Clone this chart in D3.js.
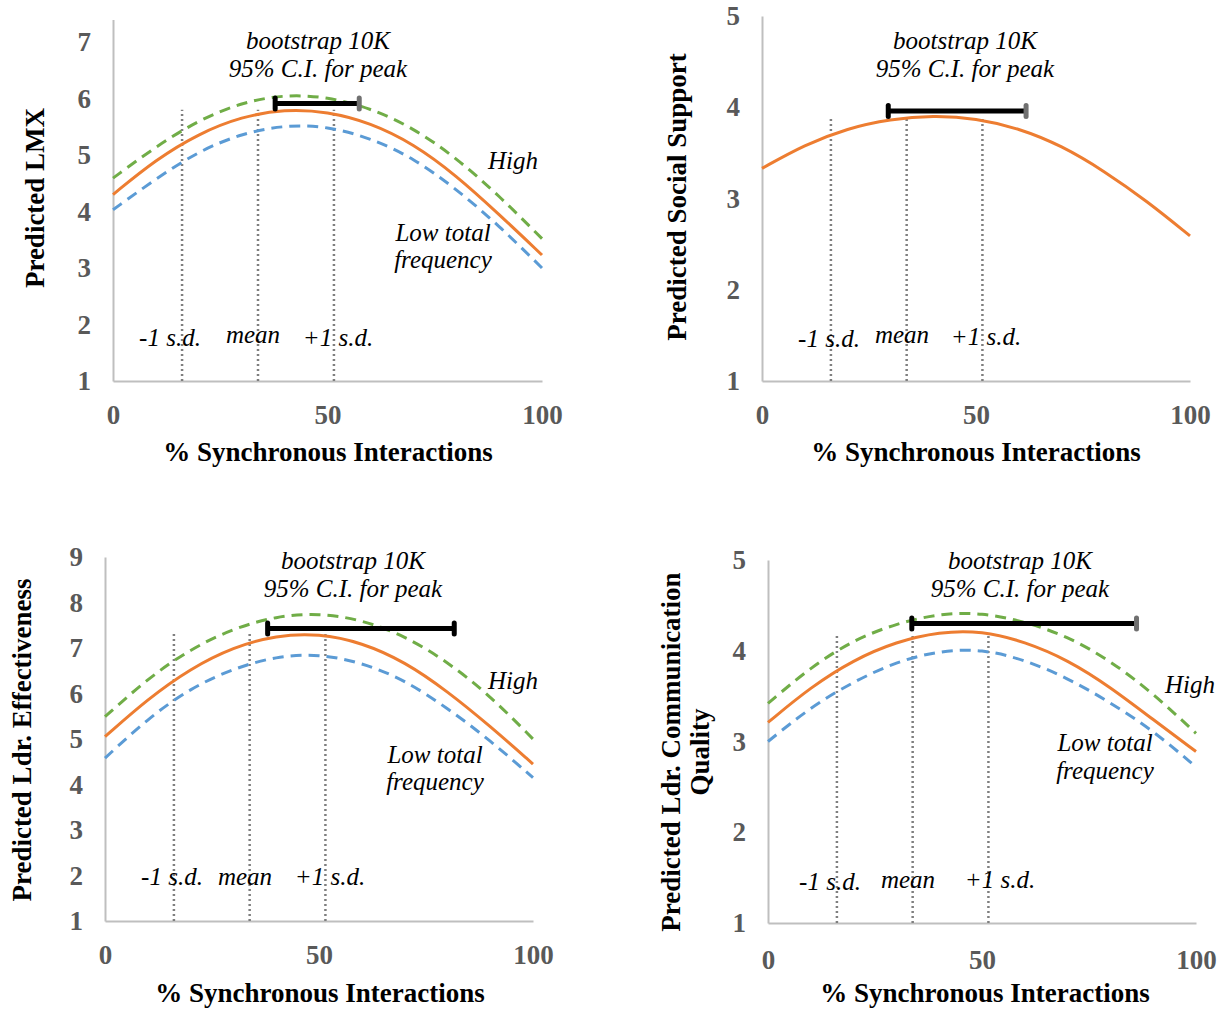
<!DOCTYPE html>
<html><head><meta charset="utf-8">
<script src="https://cdn.jsdelivr.net/npm/d3@7"></script>
<style>body{margin:0;background:#fff}svg{display:block}</style>
</head><body>
<svg id="chart" width="1223" height="1010"></svg>
<script>
// ---------- data ----------
const xPct = [0, 10, 20, 30, 40, 50, 60, 70, 80, 90, 100];

const lmxAverage = [4.30, 4.92, 5.38, 5.68, 5.81, 5.77, 5.57, 5.20, 4.64, 3.95, 3.23];
const lmxHigh    = [4.59, 5.15, 5.62, 5.93, 6.07, 6.03, 5.83, 5.48, 4.95, 4.28, 3.52];
const lmxLow     = [4.03, 4.58, 5.07, 5.38, 5.53, 5.51, 5.30, 4.95, 4.40, 3.75, 3.00];

const supportAverage = [3.33, 3.59, 3.77, 3.87, 3.91, 3.88, 3.77, 3.58, 3.30, 2.97, 2.59];

const effAverage = [5.05, 5.88, 6.55, 7.02, 7.28, 7.32, 7.12, 6.70, 6.05, 5.28, 4.45];
const effHigh    = [5.49, 6.33, 6.98, 7.43, 7.70, 7.77, 7.62, 7.27, 6.70, 5.95, 5.00];
const effLow     = [4.58, 5.45, 6.12, 6.55, 6.82, 6.87, 6.68, 6.30, 5.68, 4.97, 4.15];

const commAverage = [3.21, 3.60, 3.90, 4.10, 4.21, 4.22, 4.10, 3.90, 3.60, 3.24, 2.89];
const commHigh    = [3.42, 3.82, 4.12, 4.30, 4.41, 4.42, 4.32, 4.16, 3.89, 3.53, 3.09];
const commLow     = [3.00, 3.38, 3.66, 3.88, 4.00, 4.02, 3.90, 3.70, 3.43, 3.12, 2.72];

const sdMarks  = [16.1, 33.8, 51.5];
const sdLabels = ["-1 s.d.", "mean", "+1 s.d."];
const sdLineTop = [5.8, 3.9, 7.33, 4.17];

const ciStart = [37.8, 29.5, 38.0, 33.6];
const ciEnd   = [57.4, 61.7, 81.6, 86.1];
const ciLevel = [5.91, 3.96, 7.43, 4.30];

const xTicks = [0, 50, 100];
const yTicksLmx = [1, 2, 3, 4, 5, 6, 7];
const yTicksSupport = [1, 2, 3, 4, 5];
const yTicksEff = [1, 2, 3, 4, 5, 6, 7, 8, 9];
const yTicksComm = [1, 2, 3, 4, 5];

const yTitles = [["Predicted LMX"], ["Predicted Social Support"], ["Predicted Ldr. Effectiveness"], ["Predicted Ldr. Communication", "Quality"]];
const xTitle = "% Synchronous Interactions";
const ciText = ["bootstrap 10K", "95% C.I. for peak"];
const highText = "High";
const lowText = ["Low total", "frequency"];

// ---------- layout ----------
const COL = {avg: "#ED7D31", high: "#70AD47", low: "#5B9BD5"};
const panels = [
  {x0:113, x1:542, yb:381, yTopTick:42, axisMax:7.4, yTicks:yTicksLmx,
   series:[lmxHigh, lmxLow, lmxAverage], capRight:"#707070",
   yTitleX:[44], yTitleY:198, xTitleX:328, xTitleDy:80, xPad:24,
   ciTxt:[318, 49, 77], high:[513,169], low:[443,241,268], sdTxt:[[170,346],[253,343],[338,346]]},
  {x0:762, x1:1190, yb:381, yTopTick:16, axisMax:5, yTicks:yTicksSupport,
   series:[supportAverage], capRight:"#707070",
   yTitleX:[686], yTitleY:197, xTitleX:976, xTitleDy:80, xPad:24,
   ciTxt:[965, 49, 77], high:null, low:null, sdTxt:[[829,347],[902,343],[986,345]]},
  {x0:105, x1:533, yb:921, yTopTick:557, axisMax:9, yTicks:yTicksEff,
   series:[effHigh, effLow, effAverage], capRight:"#000",
   yTitleX:[31], yTitleY:740, xTitleX:320, xTitleDy:81, xPad:24,
   ciTxt:[353, 569, 597], high:[513,689], low:[435,763,790], sdTxt:[[172,885],[245,885],[330,885]]},
  {x0:768, x1:1196, yb:923, yTopTick:560, axisMax:5, yTicks:yTicksComm,
   series:[commHigh, commLow, commAverage], capRight:"#707070",
   yTitleX:[680, 709], yTitleY:752, xTitleX:985, xTitleDy:79, xPad:27,
   ciTxt:[1020, 569, 597], high:[1190,693], low:[1105,751,779], sdTxt:[[830,890],[908,888],[1000,888]]}
];

const svg = d3.select("#chart");
const SERIF = "'Liberation Serif','Times New Roman',serif";

panels.forEach((p, i) => {
  const g = svg.append("g");
  const x = d3.scaleLinear().domain([0, 100]).range([p.x0, p.x1]);
  const tickMax = p.yTicks[p.yTicks.length - 1];
  const y0 = d3.scaleLinear().domain([1, tickMax]).range([p.yb, p.yTopTick]);
  const y = d3.scaleLinear().domain([1, p.axisMax]).range([p.yb, y0(p.axisMax)]);

  // axes
  const ya = g.append("g").attr("transform", `translate(${p.x0},0)`)
    .call(d3.axisLeft(y).tickValues(p.yTicks).tickSize(0).tickPadding(22).tickFormat(d3.format("d")));
  const xa = g.append("g").attr("transform", `translate(0,${p.yb})`)
    .call(d3.axisBottom(x).tickValues(xTicks).tickSize(0).tickPadding(p.xPad).tickFormat(d3.format("d")));
  [ya, xa].forEach(a => {
    a.select(".domain").attr("stroke", "#bfbfbf").attr("stroke-width", 2);
    a.selectAll("text").attr("font-family", SERIF).attr("font-weight", "bold")
      .attr("font-size", 27).attr("fill", "#595959");
  });

  // sd dotted lines
  g.selectAll(".sd").data(sdMarks).join("line")
    .attr("x1", d => x(d)).attr("x2", d => x(d))
    .attr("y1", y(1)).attr("y2", y(sdLineTop[i]))
    .attr("stroke", "#7f7f7f").attr("stroke-width", 2.5).attr("stroke-dasharray", "2,3");

  // curves
  const line = d3.line().x((d, k) => x(xPct[k])).y(d => y(d)).curve(d3.curveBasis);
  p.series.forEach((s, k) => {
    const isAvg = k === p.series.length - 1;
    const color = isAvg ? COL.avg : (k === 0 ? COL.high : COL.low);
    g.append("path").datum(s).attr("d", line).attr("fill", "none")
      .attr("stroke", color).attr("stroke-width", 3)
      .attr("stroke-dasharray", isAvg ? null : "11,7");
  });

  // CI bar
  const cy = y(ciLevel[i]);
  g.append("line").attr("x1", x(ciStart[i])).attr("x2", x(ciEnd[i]))
    .attr("y1", cy).attr("y2", cy).attr("stroke", "#000").attr("stroke-width", 5);
  g.append("line").attr("x1", x(ciStart[i])).attr("x2", x(ciStart[i]))
    .attr("y1", cy - 5.5).attr("y2", cy + 5.5).attr("stroke", "#000").attr("stroke-width", 5).attr("stroke-linecap", "round");
  g.append("line").attr("x1", x(ciEnd[i])).attr("x2", x(ciEnd[i]))
    .attr("y1", cy - 5.5).attr("y2", cy + 5.5).attr("stroke", p.capRight).attr("stroke-width", 5).attr("stroke-linecap", "round");

  // text helpers
  const italic = (t, xx, yy) => g.append("text").attr("x", xx).attr("y", yy).text(t)
    .attr("font-family", SERIF).attr("font-style", "italic").attr("font-size", 25)
    .attr("text-anchor", "middle").attr("fill", "#000");

  italic(ciText[0], p.ciTxt[0], p.ciTxt[1]);
  italic(ciText[1], p.ciTxt[0], p.ciTxt[2]);
  if (p.high) italic(highText, p.high[0], p.high[1]);
  if (p.low) { italic(lowText[0], p.low[0], p.low[1]); italic(lowText[1], p.low[0], p.low[2]); }
  sdLabels.forEach((t, k) => italic(t, p.sdTxt[k][0], p.sdTxt[k][1]));

  // axis titles
  g.append("text").attr("x", p.xTitleX).attr("y", p.yb + p.xTitleDy).text(xTitle)
    .attr("font-family", SERIF).attr("font-weight", "bold").attr("font-size", 27)
    .attr("text-anchor", "middle").attr("fill", "#000");
  yTitles[i].forEach((t, k) => {
    g.append("text").attr("transform", `translate(${p.yTitleX[k]},${p.yTitleY}) rotate(-90)`)
      .text(t).attr("font-family", SERIF).attr("font-weight", "bold").attr("font-size", 27)
      .attr("text-anchor", "middle").attr("fill", "#000");
  });
});
</script>
</body></html>
